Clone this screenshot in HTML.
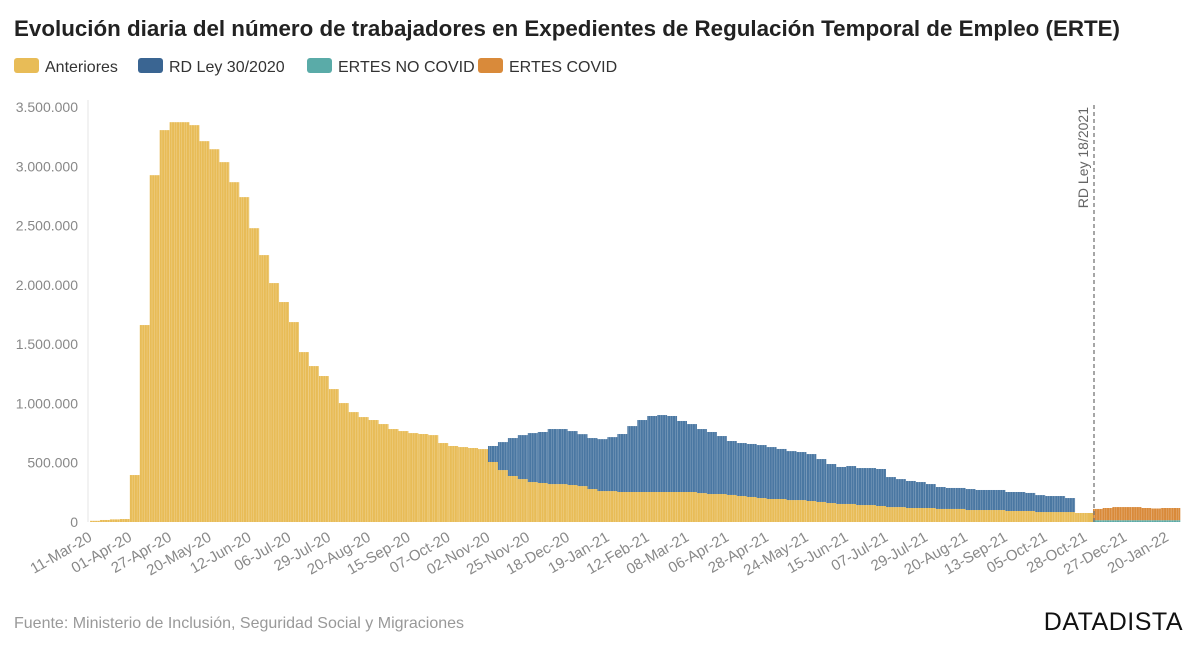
<!DOCTYPE html>
<html><head><meta charset="utf-8">
<style>
body{margin:0;background:#fff;width:1200px;height:649px;overflow:hidden;font-family:"Liberation Sans",sans-serif;}
svg text{font-family:"Liberation Sans",sans-serif;}
</style></head>
<body>
<svg id="chart" width="1200" height="649" viewBox="0 0 1200 649">
<text x="14" y="36" font-size="22" font-weight="bold" fill="#222" textLength="1106" lengthAdjust="spacingAndGlyphs">Evolución diaria del número de trabajadores en Expedientes de Regulación Temporal de Empleo (ERTE)</text>
<g font-size="16" fill="#333">
 <rect x="14" y="58" width="25" height="15" rx="3" fill="#E8BC57"/>
 <text x="45" y="72">Anteriores</text>
 <rect x="138" y="58" width="25" height="15" rx="3" fill="#3A6592"/>
 <text x="169" y="72">RD Ley 30/2020</text>
 <rect x="307" y="58" width="25" height="15" rx="3" fill="#5AABA8"/>
 <text x="338" y="72">ERTES NO COVID</text>
 <rect x="478" y="58" width="25" height="15" rx="3" fill="#D98A3A"/>
 <text x="509" y="72">ERTES COVID</text>
</g>
<g id="plot"></g>
<text x="14" y="628" font-size="16" fill="#999">Fuente: Ministerio de Inclusión, Seguridad Social y Migraciones</text>
<text x="1183" y="630" font-size="25" text-anchor="end" fill="#111" letter-spacing="0.5">DATADISTA</text>
</svg>
<script>
const anteriores=[10,17,22,25,396,1661,2925,3305,3372,3372,3347,3212,3144,3035,2866,2740,2478,2251,2015,1855,1686,1433,1315,1231,1121,1003,927,885,860,826,784,767,750,742,733,666,641,632,624,615,506,438,388,362,337,329,320,320,312,303,278,261,261,253,253,253,253,253,253,253,253,244,236,236,228,219,211,202,194,194,185,185,177,169,160,152,152,143,143,135,126,126,118,118,118,110,110,110,101,101,101,101,93,93,93,84,84,84,84,76,76];
const rdLey=[0,0,0,0,0,0,0,0,0,0,0,0,0,0,0,0,0,0,0,0,0,0,0,0,0,0,0,0,0,0,0,0,0,0,0,0,0,0,0,0,135,236,320,371,413,430,464,464,455,438,430,438,455,489,556,607,641,649,641,599,573,540,523,489,455,447,447,447,438,422,413,405,396,362,329,312,320,312,312,312,253,236,228,219,202,185,177,177,177,169,169,169,160,160,152,143,135,135,118];
const noCovid=[15,15,15,15,15,15,15,15,15];
const covid=[95,103,111,111,111,103,99,103,103];
const tickLabels=["11-Mar-20","01-Apr-20","27-Apr-20","20-May-20","12-Jun-20","06-Jul-20","29-Jul-20","20-Aug-20","15-Sep-20","07-Oct-20","02-Nov-20","25-Nov-20","18-Dec-20","19-Jan-21","12-Feb-21","08-Mar-21","06-Apr-21","28-Apr-21","24-May-21","15-Jun-21","07-Jul-21","29-Jul-21","20-Aug-21","13-Sep-21","05-Oct-21","28-Oct-21"];
const covidTickLabels=["27-Dec-21","20-Jan-22"];
const yTicks=[0,500,1000,1500,2000,2500,3000,3500];
const yTickLabels=["0","500.000","1.000.000","1.500.000","2.000.000","2.500.000","3.000.000","3.500.000"];

const NS="http://www.w3.org/2000/svg";
const plot=document.getElementById('plot');
const y0=522, yTop=107, yMax=3500;
const y=v=>y0-(v/yMax)*(y0-yTop);
const bw=9.95;
const x=i=>90+i*bw;
const xc=i=>1093+i*9.7;
function mk(tag,attrs){const e=document.createElementNS(NS,tag);for(const k in attrs)e.setAttribute(k,attrs[k]);plot.appendChild(e);return e;}

const axis=mk('line',{x1:88,x2:88,y1:100,y2:522,stroke:'#e6e6e6'});


yTicks.forEach((v,i)=>{
 const t=mk('text',{x:78,y:y(v)+5,'font-size':14,fill:'#888','text-anchor':'end'});
 t.textContent=yTickLabels[i];
 
 
});
anteriores.forEach((v,i)=>{
 const r=mk('rect',{x:x(i),y:y(v),width:bw,height:y0-y(v),fill:'#E8BC57'});
 
 
 const b=rdLey[i];
 if(b>0){
  const r2=mk('rect',{x:x(i),y:y(v+b),width:bw,height:y(v)-y(v+b),fill:'#4A77A2'});
  
  
 }
});
covid.forEach((v,i)=>{
 const t=noCovid[i];
 const r=mk('rect',{x:xc(i),y:y(t),width:9.7,height:y0-y(t),fill:'#5AABA8'});
 
 
 const r2=mk('rect',{x:xc(i),y:y(t+v),width:9.7,height:y(t)-y(t+v),fill:'#D98A3A'});
 
 
});
for(let px=90;px<1180;px+=2.48){
 if(px>1088&&px<1093)continue;
 const s=mk('line',{x1:px,x2:px,y1:100,y2:522,stroke:'#fff','stroke-width':0.5,'stroke-opacity':0.35});
 
 
}
tickLabels.forEach((l,i)=>{
 const px=x(i*4)+3, py=540;
 const t=mk('text',{x:px,y:py,'font-size':15,fill:'#888','text-anchor':'end',transform:`rotate(-30 ${px} ${py})`});
 t.textContent=l;
 
 
});
covidTickLabels.forEach((l,i)=>{
 const px=xc(3.6+i*4.3), py=540;
 const t=mk('text',{x:px,y:py,'font-size':15,fill:'#888','text-anchor':'end',transform:`rotate(-30 ${px} ${py})`});
 t.textContent=l;
 
 
});
const dl=mk('line',{x1:1094,x2:1094,y1:105,y2:522,stroke:'#777','stroke-width':1.3,'stroke-dasharray':'4,3'});


const at=mk('text',{x:1088,y:107,'font-size':14,fill:'#666','text-anchor':'end',transform:'rotate(-90 1088 107)'});
at.textContent='RD Ley 18/2021';


</script>
</body></html>
